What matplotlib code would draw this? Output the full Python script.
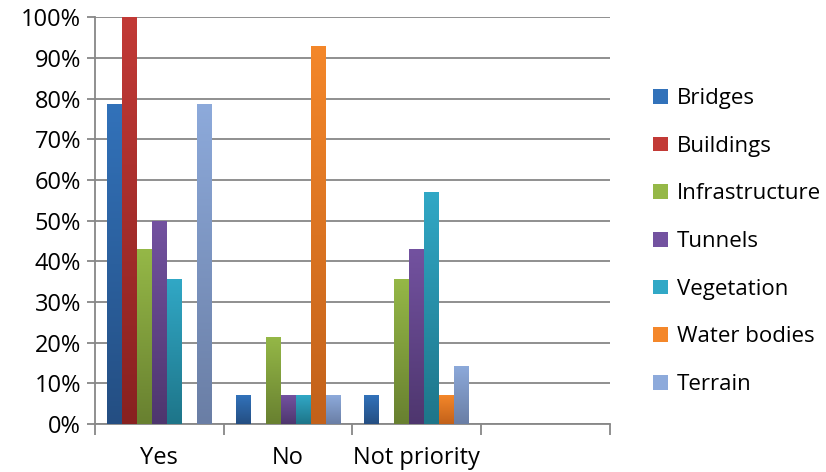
import numpy as np
import matplotlib.pyplot as plt
from matplotlib.colors import LinearSegmentedColormap
from matplotlib.patches import Rectangle

categories = ["Yes", "No", "Not priority", ""]
series = ["Bridges", "Buildings", "Infrastructure", "Tunnels",
          "Vegetation", "Water bodies", "Terrain"]
bridges = [78.6, 7.1, 7.1, 0]
buildings = [100.0, 0, 0, 0]
infrastructure = [42.9, 21.4, 35.7, 0]
tunnels = [50.0, 7.1, 42.9, 0]
vegetation = [35.7, 7.1, 57.1, 0]
water_bodies = [0, 92.9, 7.1, 0]
terrain = [78.6, 7.1, 14.3, 0]
values = [bridges, buildings, infrastructure, tunnels,
          vegetation, water_bodies, terrain]

# (top colour, bottom colour) for the vertical shading of each series
shades = [("#3272BA", "#244E82"), ("#C23A36", "#882120"),
          ("#95B847", "#688030"), ("#7352A0", "#4E366E"),
          ("#31A8C6", "#1E7589"), ("#F4872A", "#C2611A"),
          ("#8DAADB", "#6A7EA5")]

plt.rcParams['font.family'] = ['Open Sans', 'DejaVu Sans']

fig = plt.figure(figsize=(8.26, 4.72), dpi=100)
ax = fig.add_axes([0.115, 0.1017, 0.6235, 0.862])

x = np.arange(len(categories))
width = 0.1163
grad = np.linspace(0, 1, 256).reshape(-1, 1)

for i, (name, vals, (top, bottom)) in enumerate(zip(series, values, shades)):
    bars = ax.bar(x + (i - 3) * width, vals, width, color=top, label=name,
                  zorder=3, linewidth=0)
    cmap = LinearSegmentedColormap.from_list(name, [bottom, top])
    for b in bars:
        h = b.get_height()
        if h <= 0:
            continue
        b.set_facecolor("none")
        x0 = b.get_x()
        im = ax.imshow(grad, cmap=cmap, origin="lower", aspect="auto",
                       extent=(x0, x0 + width, 0, h), zorder=3,
                       interpolation="bicubic")
        im.set_clip_path(b)

ax.set_xlim(-0.5, 3.5)
ax.set_ylim(0, 100)
ax.set_yticks(np.arange(0, 101, 10))
ax.set_yticklabels([f"{v}%" for v in range(0, 101, 10)])
ax.yaxis.grid(True, color="#878787", linewidth=1.3, zorder=0)
ax.set_axisbelow(True)

# category boundaries carry the x tick marks, labels sit at the centres
ax.set_xticks(np.arange(-0.5, 4.0, 1.0))
ax.set_xticklabels([])
ax.set_xticks(x, categories, minor=True)
ax.tick_params(axis="x", which="major", length=8, width=1.3, color="#878787")
ax.tick_params(axis="x", which="minor", length=0, labelsize=17, pad=16)
ax.tick_params(axis="y", length=6, width=1.3, color="#878787",
               labelsize=17, pad=4)

for s in ["top", "right"]:
    ax.spines[s].set_visible(False)
for s in ["left", "bottom"]:
    ax.spines[s].set_color("#878787")
    ax.spines[s].set_linewidth(1.3)

handles = [Rectangle((0, 0), 1, 1, facecolor=top) for top, _ in shades]
fig.legend(handles, series, loc="center left", bbox_to_anchor=(0.780, 0.488),
           frameon=False, fontsize=16, handlelength=0.65, handleheight=0.65,
           handletextpad=0.4, labelspacing=1.2, borderaxespad=0)

fig.savefig("out.png", dpi=100)
